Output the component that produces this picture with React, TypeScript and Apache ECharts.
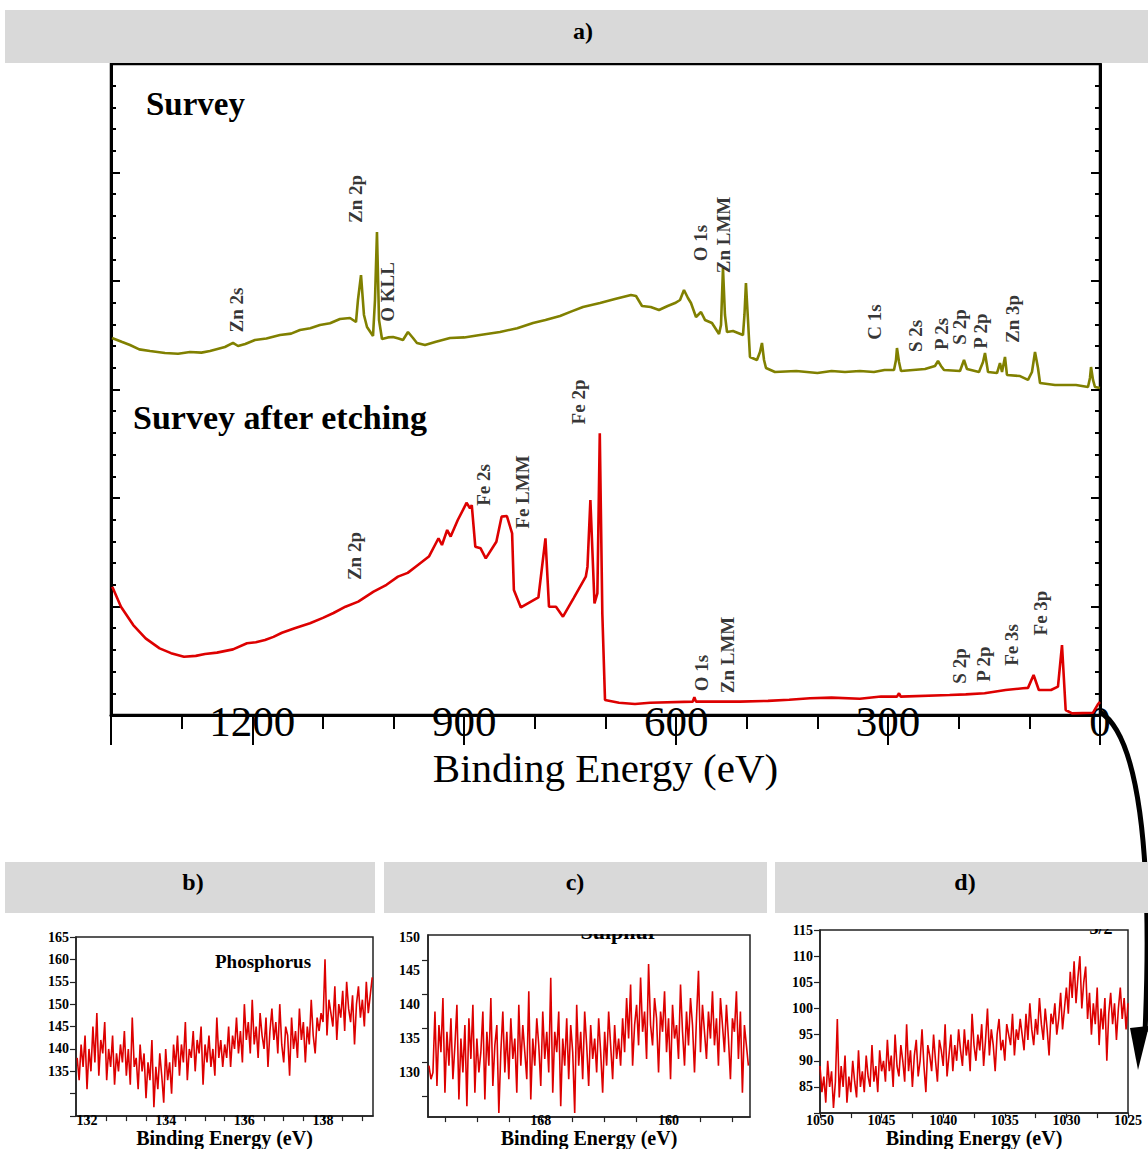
import React, { useEffect, useRef } from "react";
import * as echarts from "echarts";

const SERIF = "'Liberation Serif', 'Times New Roman', serif";

// ---------- Panel a) survey spectra (binding energy eV, intensity a.u.) ----------
const SURVEY_EV = [1398.6,1385,1373.1,1360,1344.8,1323.6,1305,1288.2,1272,1259.9,1238.7,1227.3,1220.2,1210,1196.2,1180,1160.8,1145,1132.5,1118,1104.2,1090,1075.9,1061.7,1053.2,1050.4,1046.1,1041.9,1037.6,1029.1,1026.3,1023.5,1020.6,1016.4,1008,1000.8,993,986.7,979.6,972.5,966.9,955.5,940,920.1,900,880,849.4,825,802.6,785,764.4,748,731.9,707.8,686.6,663.9,656.8,648.3,636,624.3,612,601.6,594.5,588.9,583.3,579.0,571.9,564.8,559.2,549.3,539.3,536.5,533.7,530.9,528.0,519.5,505.4,503.3,501.2,498.3,495.5,485.6,481.3,478.5,475.6,472.8,460.1,430,400,380,361.0,340,320,305,291.6,288.8,287.4,284.5,281.7,247.7,233.6,229.3,225.1,220.8,198.2,192.5,188.3,171.3,165.6,162.8,158.5,145.8,141.6,138.7,134.5,131.7,113.2,101.9,96.3,92.0,87.8,84.9,63.7,34.0,17.0,14.2,12.7,9.9,7.1,0];
const SURVEY_I = [3.475,3.440,3.410,3.370,3.355,3.336,3.330,3.346,3.340,3.355,3.392,3.429,3.401,3.420,3.456,3.470,3.502,3.515,3.548,3.565,3.594,3.610,3.650,3.659,3.622,3.825,4.055,3.687,3.576,3.493,3.825,4.452,3.641,3.465,3.480,3.484,3.470,3.456,3.530,3.475,3.429,3.410,3.440,3.475,3.480,3.500,3.530,3.565,3.613,3.640,3.677,3.720,3.760,3.797,3.834,3.871,3.862,3.770,3.760,3.733,3.770,3.797,3.825,3.917,3.843,3.797,3.668,3.714,3.641,3.613,3.512,3.594,4.120,3.687,3.530,3.539,3.502,3.687,3.982,3.641,3.300,3.272,3.346,3.429,3.272,3.198,3.161,3.170,3.152,3.171,3.161,3.170,3.161,3.180,3.180,3.272,3.382,3.253,3.171,3.189,3.217,3.263,3.217,3.180,3.171,3.272,3.189,3.161,3.253,3.336,3.161,3.152,3.244,3.161,3.300,3.134,3.124,3.088,3.161,3.346,3.198,3.060,3.041,3.041,3.023,3.106,3.207,3.088,3.023,3.014];

const ETCH_EV = [1398.2,1385.9,1368.5,1351.0,1331.2,1315,1296.7,1280,1267.0,1250,1227.3,1207.5,1195,1182.0,1170,1158.0,1140,1118.3,1100,1085,1068.1,1050,1028.3,1010,993.8,980,968.7,950,936.4,931.5,924.1,919.2,909.1,899.2,896.8,891.8,889.3,884.3,876.8,869.5,854.5,847.1,839.6,832.2,829.7,819.8,795.0,785.0,780.0,770.1,760.2,745.3,727.9,725.5,721.4,715.6,711.5,708.1,704.5,700.7,680.9,658.3,637.0,576.6,574.2,571.9,509.6,470,440,410.5,380,340,310,287.4,284.5,282.1,212.9,190,163.4,133.6,109.0,101.9,94.0,86.6,69.4,59.5,53.8,48.6,39.6,9.9,2.8,0];
const ETCH_I = [1.182,0.998,0.829,0.706,0.614,0.570,0.537,0.545,0.562,0.575,0.605,0.661,0.670,0.691,0.720,0.758,0.800,0.845,0.895,0.940,0.998,1.045,1.137,1.200,1.275,1.310,1.367,1.460,1.629,1.567,1.705,1.645,1.797,1.922,1.957,1.905,1.935,1.551,1.536,1.444,1.597,1.828,1.834,1.674,1.152,0.991,1.083,1.628,0.998,0.998,0.906,1.075,1.275,1.367,1.982,1.029,1.121,2.596,0.937,0.138,0.113,0.101,0.113,0.123,0.163,0.123,0.123,0.130,0.140,0.154,0.160,0.150,0.170,0.169,0.200,0.169,0.184,0.190,0.200,0.230,0.246,0.250,0.369,0.230,0.230,0.261,0.645,0.046,0.015,0.021,0.101,0.120];

// peak annotations: [text, binding energy, height]
const SURVEY_PEAKS: [string, number, number][] = [
  ["Zn 2s", 1221.7, 3.733], ["Zn 2p", 1054.6, 4.756], ["O KLL", 1009.3, 3.899],
  ["O 1s", 566.2, 4.350], ["Zn LMM", 532.3, 4.424], ["C 1s", 319.9, 3.622],
  ["S 2s", 260.5, 3.493], ["P 2s", 223.7, 3.512], ["S 2p", 198.2, 3.576],
  ["P 2p", 168.5, 3.539], ["Zn 3p", 123.2, 3.650],
];
const ETCH_PEAKS: [string, number, number][] = [
  ["Zn 2p", 1056.0, 1.465], ["Fe 2s", 872.0, 2.120], ["Fe LMM", 816.8, 2.055],
  ["Fe 2p", 738.9, 2.885], ["O 1s", 564.8, 0.387], ["Zn LMM", 526.6, 0.553],
  ["S 2p", 198.2, 0.452], ["P 2p", 165.6, 0.470], ["Fe 3s", 124.6, 0.645],
  ["Fe 3p", 84.9, 0.940],
];

// ---------- Panel b) Phosphorus ----------
const B_START = 131.75;
const B_STEP = 0.05;
const B_VALUES = [
  138,133,141,136,143,131,140,135,145,137,148,134,142,139,146,133,140,136,143,132,139,135,141,137,144,
  134,140,132,147,136,138,131,141,135,139,129,137,133,142,127,136,131,139,134,128,140,133,137,130,141,
  136,143,134,141,137,146,133,140,138,144,135,142,139,145,132,141,137,143,136,140,134,147,138,142,136,
  141,138,145,136,143,140,147,139,144,137,150,142,146,139,151,141,145,138,148,143,140,147,136,144,149,
  142,146,139,150,141,137,145,143,134,147,140,144,138,149,142,146,137,145,141,151,143,139,147,144,148,
  146,160,143,151,148,145,154,142,150,147,153,144,155,149,146,152,141,150,154,147,151,145,155,148,152,156,
];
const B_TICK_VALUES = [132,132.5,133,133.5,134,134.5,135,135.5,136,136.5,137,137.5,138,138.5,139];
const B_TICK_LABELS = [132,134,136,138];

// ---------- Panel c) Sulphur ----------
const C_START = 175.0;
const C_STEP = -0.125;
const C_VALUES = [
  131,129,130,139,128,137,133,141,127,136,131,138,129,134,140,126,135,130,137,125,
  138,132,140,127,135,130,133,139,126,136,131,141,128,134,137,124,133,139,130,136,
  129,138,132,135,127,140,131,137,133,129,142,126,135,131,138,134,128,139,132,136,
  130,144,127,136,133,139,125,135,131,138,129,137,133,124,140,131,136,129,139,134,
  128,137,132,135,130,138,133,127,136,131,139,134,129,137,132,135,131,
  138,133,141,135,143,131,137,140,134,144,136,139,132,146,137,134,141,138,130,139,
  136,142,133,138,129,140,135,137,132,143,136,131,139,134,141,137,130,138,145,133,
  140,136,132,139,135,142,134,138,131,141,137,133,140,135,129,138,136,142,132,139,127,137,134,131,
];
const C_TICK_VALUES = [156,158,160,162,164,166,168,170,172,174];
const C_TICK_LABELS = [160,168];
const C_Y_TICKS = [126.5,131.5,136.5,141.5,146.5];
const C_Y_LABELS = [130,135,140,145,150];

// ---------- Panel d) Zn 2p ----------
const D_START = 1050;
const D_STEP = -0.15625;
const D_VALUES = [
  89,84,87,82,90,85,88,81,86,98,83,89,85,91,82,87,84,90,86,83,92,85,88,84,91,87,85,93,86,89,84,92,88,
  90,86,94,88,91,85,95,89,87,93,90,86,97,88,92,85,91,94,87,90,96,89,84,93,91,88,95,90,86,94,92,89,97,87,91,95,88,93,90,96,
  92,89,96,91,94,88,99,93,90,95,92,97,89,94,100,91,96,93,88,95,98,92,94,90,97,95,93,99,91,96,94,98,
  95,92,99,94,101,96,93,98,95,102,97,94,100,96,91,99,97,101,95,98,103,96,100,
  104,99,107,102,109,101,106,110,100,105,108,
  98,103,95,101,97,104,93,100,96,102,90,99,103,97,101,94,100,104,98,102,96,101,
];

const OLIVE = "#808000";
const RED = "#dd0000";
const BAND = "#d9d9d9";

function pairs(xs: number[], ys: number[]) {
  const n = Math.min(xs.length, ys.length);
  const out: number[][] = [];
  for (let i = 0; i < n; i++) out.push([xs[i], ys[i]]);
  return out;
}
function sampled(start: number, step: number, ys: number[]) {
  return ys.map((v, i) => [start + i * step, v]);
}

const smallLabel = { fontSize: 14, fontWeight: "bold" as const, fontFamily: SERIF, color: "#000" };
const smallName = { fontSize: 20, fontWeight: "bold" as const, fontFamily: SERIF, color: "#000" };
const thinLine = { color: "#222", width: 1.5 };
const thinTick = { color: "#222", width: 1.2 };

function buildOption(): any {
  const peakLabel = {
    show: true,
    position: "inside",
    rotate: 90,
    formatter: "{b}",
    fontFamily: SERIF,
    fontWeight: "bold",
    fontSize: 19,
    color: "#000",
  };
  const txt = (text: string, x: number, y: number, size: number, z: number, align = "left", weight = "bold") => ({
    type: "text", z, x, y,
    style: { text, fontSize: size, fontWeight: weight, fontFamily: SERIF, fill: "#000", align, verticalAlign: "middle" },
  });
  return {
    animation: false,
    backgroundColor: "#fff",
    grid: [
      { left: 111, top: 64, width: 989, height: 651, show: true, borderColor: "#000", borderWidth: 2.5 },
      { left: 76, top: 937, width: 297, height: 186, show: true, borderColor: "#222", borderWidth: 1.5 },
      { left: 428, top: 935, width: 322, height: 188, show: true, borderColor: "#222", borderWidth: 1.5 },
      { left: 820, top: 930, width: 308, height: 187, show: true, borderColor: "#222", borderWidth: 1.5 },
    ],
    xAxis: [
      {
        type: "value", gridIndex: 0, position: "bottom", inverse: true, min: 0, max: 1400, interval: 300,
        axisLine: { show: true, onZero: false, lineStyle: { color: "#000", width: 3 } },
        axisTick: { show: true, length: 30, lineStyle: { color: "#000", width: 2 } },
        axisLabel: {
          margin: -15, fontSize: 43, fontFamily: SERIF, color: "#000",
          formatter: (v: number) => (v % 300 === 0 ? String(v) : ""),
        },
        splitLine: { show: false },
        name: "Binding Energy (eV)", nameLocation: "middle", nameGap: 32,
        nameTextStyle: { fontSize: 41, fontFamily: SERIF, color: "#000" },
      },
      {
        type: "value", gridIndex: 0, position: "bottom", inverse: true, min: 0, max: 1400, interval: 100,
        axisLine: { show: false },
        axisTick: { show: true, length: 14, lineStyle: { color: "#000", width: 2 } },
        axisLabel: { show: false },
        splitLine: { show: false },
      },
      {
        type: "value", gridIndex: 1, position: "bottom", min: 131.72, max: 139.27,
        axisLine: { show: true, onZero: false, lineStyle: thinLine },
        axisTick: { show: true, customValues: B_TICK_VALUES, length: 5, lineStyle: thinTick },
        axisLabel: { customValues: B_TICK_LABELS, margin: -3, ...smallLabel },
        splitLine: { show: false },
        name: "Binding Energy (eV)", nameLocation: "middle", nameGap: 9, nameTextStyle: smallName,
      },
      {
        type: "value", gridIndex: 2, position: "bottom", inverse: true, min: 154.9, max: 175.06,
        axisLine: { show: true, onZero: false, lineStyle: thinLine },
        axisTick: { show: true, customValues: C_TICK_VALUES, length: 5, lineStyle: thinTick },
        axisLabel: { customValues: C_TICK_LABELS, margin: -4, ...smallLabel },
        splitLine: { show: false },
        name: "Binding Energy (eV)", nameLocation: "middle", nameGap: 10, nameTextStyle: smallName,
      },
      {
        type: "value", gridIndex: 3, position: "bottom", inverse: true, min: 1025, max: 1050, interval: 2.5,
        axisLine: { show: true, onZero: false, lineStyle: thinLine },
        axisTick: { show: true, length: 5, lineStyle: thinTick },
        axisLabel: {
          margin: 0, ...smallLabel,
          formatter: (v: number) => (v % 5 === 0 ? String(v) : ""),
        },
        splitLine: { show: false },
        name: "Binding Energy (eV)", nameLocation: "middle", nameGap: 8, nameTextStyle: smallName,
      },
    ],
    yAxis: [
      {
        type: "value", gridIndex: 0, position: "left", min: 0, max: 6, interval: 1,
        axisLine: { show: true, onZero: false, lineStyle: { color: "#000", width: 3 } },
        axisTick: { show: true, inside: true, length: 9, lineStyle: { color: "#000", width: 2 } },
        minorTick: { show: true, splitNumber: 5, length: 5, lineStyle: { color: "#000", width: 2 } },
        axisLabel: { show: false },
        splitLine: { show: false },
      },
      {
        type: "value", gridIndex: 0, position: "right", min: 0, max: 6, interval: 1,
        axisLine: { show: true, onZero: false, lineStyle: { color: "#000", width: 3 } },
        axisTick: { show: true, inside: true, length: 9, lineStyle: { color: "#000", width: 2 } },
        minorTick: { show: true, splitNumber: 5, length: 5, lineStyle: { color: "#000", width: 2 } },
        axisLabel: { show: false },
        splitLine: { show: false },
      },
      {
        type: "value", gridIndex: 1, position: "left", min: 125, max: 165, interval: 5,
        axisLine: { show: true, onZero: false, lineStyle: thinLine },
        axisTick: { show: true, length: 6, lineStyle: thinTick },
        axisLabel: { margin: 7, ...smallLabel, formatter: (v: number) => (v <= 130 ? "" : String(v)) },
        splitLine: { show: false },
      },
      {
        type: "value", gridIndex: 2, position: "left", min: 123.4, max: 150.3,
        axisLine: { show: true, onZero: false, lineStyle: thinLine },
        axisTick: { show: true, customValues: C_Y_TICKS, length: 6, lineStyle: thinTick },
        axisLabel: { customValues: C_Y_LABELS, margin: 8, ...smallLabel },
        splitLine: { show: false },
      },
      {
        type: "value", gridIndex: 3, position: "left", min: 80, max: 115, interval: 5,
        axisLine: { show: true, onZero: false, lineStyle: thinLine },
        axisTick: { show: true, length: 6, lineStyle: thinTick },
        axisLabel: { margin: 7, ...smallLabel, formatter: (v: number) => (v <= 80 ? "" : String(v)) },
        splitLine: { show: false },
      },
    ],
    series: [
      {
        type: "line", xAxisIndex: 0, yAxisIndex: 0, data: pairs(SURVEY_EV, SURVEY_I),
        showSymbol: false, lineStyle: { color: OLIVE, width: 2.6 }, z: 3,
      },
      {
        type: "line", xAxisIndex: 0, yAxisIndex: 0, data: pairs(ETCH_EV, ETCH_I),
        showSymbol: false, lineStyle: { color: RED, width: 2.6 }, z: 3,
      },
      {
        type: "scatter", xAxisIndex: 0, yAxisIndex: 0, symbolSize: 1, silent: true,
        itemStyle: { color: "rgba(0,0,0,0)" },
        data: SURVEY_PEAKS.map((p) => ({ name: p[0], value: [p[1], p[2]] })),
        label: peakLabel, z: 5,
      },
      {
        type: "scatter", xAxisIndex: 0, yAxisIndex: 0, symbolSize: 1, silent: true,
        itemStyle: { color: "rgba(0,0,0,0)" },
        data: ETCH_PEAKS.map((p) => ({ name: p[0], value: [p[1], p[2]] })),
        label: peakLabel, z: 5,
      },
      {
        type: "line", xAxisIndex: 2, yAxisIndex: 2, data: sampled(B_START, B_STEP, B_VALUES),
        showSymbol: false, lineStyle: { color: RED, width: 1.6 },
      },
      {
        type: "line", xAxisIndex: 3, yAxisIndex: 3, data: sampled(C_START, C_STEP, C_VALUES),
        showSymbol: false, lineStyle: { color: RED, width: 1.6 },
      },
      {
        type: "line", xAxisIndex: 4, yAxisIndex: 4, data: sampled(D_START, D_STEP, D_VALUES),
        showSymbol: false, lineStyle: { color: RED, width: 1.6 },
      },
    ],
    graphic: [
      // curved arrow (behind the headers)
      {
        type: "bezierCurve", z: 1,
        shape: { x1: 1100, y1: 712, cpx1: 1138, cpy1: 735, cpx2: 1153, cpy2: 850, x2: 1145, y2: 1032 },
        style: { stroke: "#000", lineWidth: 5, fill: null },
      },
      {
        type: "polygon", z: 1,
        shape: { points: [[1130, 1028], [1149, 1026], [1138, 1070]] },
        style: { fill: "#000" },
      },
      // header bands
      { type: "rect", z: 10, shape: { x: 5, y: 10, width: 1143, height: 53 }, style: { fill: BAND } },
      { type: "rect", z: 10, shape: { x: 5, y: 862, width: 370, height: 51 }, style: { fill: BAND } },
      { type: "rect", z: 10, shape: { x: 384, y: 862, width: 383, height: 51 }, style: { fill: BAND } },
      { type: "rect", z: 10, shape: { x: 775, y: 862, width: 373, height: 51 }, style: { fill: BAND } },
      txt("a)", 583, 31, 24, 11, "center"),
      txt("b)", 193, 882, 24, 11, "center"),
      txt("c)", 575, 882, 24, 11, "center"),
      txt("d)", 965, 882, 24, 11, "center"),
      // spectrum titles
      txt("Survey", 146, 104, 33, 6),
      txt("Survey after etching", 133, 417, 34, 6),
      txt("Phosphorus", 263, 961, 19, 6, "center"),
      // titles clipped by the top of their frames
      txt("Sulphur", 619, 931, 22, 6, "center"),
      txt("3/2", 1101, 928, 18, 6, "center"),
      { type: "rect", z: 7, shape: { x: 560, y: 913, width: 130, height: 21 }, style: { fill: "#fff" } },
      { type: "rect", z: 7, shape: { x: 1070, y: 913, width: 57, height: 16 }, style: { fill: "#fff" } },
    ],
  };
}

export default function App() {
  const ref = useRef<HTMLDivElement>(null);
  useEffect(() => {
    if (!ref.current) return;
    const chart = echarts.init(ref.current, null, { renderer: "svg" });
    chart.setOption(buildOption());
    return () => chart.dispose();
  }, []);
  return (
    <div
      ref={ref}
      style={{ position: "absolute", left: 0, top: 0, width: 1148, height: 1149, background: "#fff" }}
    />
  );
}
